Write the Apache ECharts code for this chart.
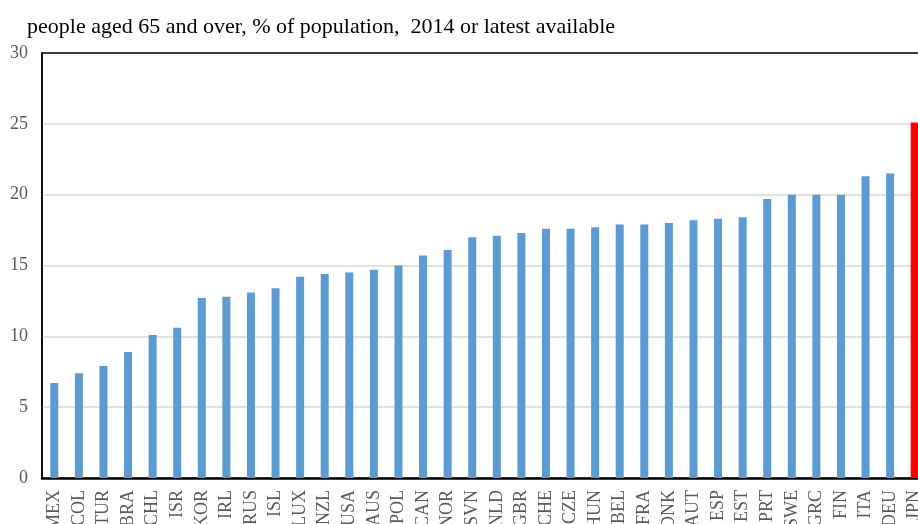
<!DOCTYPE html>
<html>
<head>
<meta charset="utf-8">
<script src="https://cdn.jsdelivr.net/npm/echarts@6/dist/echarts.min.js"></script>
<style>
  html, body { margin: 0; padding: 0; background: #fff; }
  #main { width: 918px; height: 524px; }
</style>
</head>
<body>
<div id="main"></div>
<script>
const countries = ['MEX', 'COL', 'TUR', 'BRA', 'CHL', 'ISR', 'KOR', 'IRL', 'RUS', 'ISL', 'LUX', 'NZL',
  'USA', 'AUS', 'POL', 'CAN', 'NOR', 'SVN', 'NLD', 'GBR', 'CHE', 'CZE', 'HUN', 'BEL', 'FRA', 'DNK',
  'AUT', 'ESP', 'EST', 'PRT', 'SWE', 'GRC', 'FIN', 'ITA', 'DEU', 'JPN'];
const elderlyShare = [6.7, 7.4, 7.9, 8.9, 10.1, 10.6, 12.7, 12.8, 13.1, 13.4, 14.2, 14.4,
  14.5, 14.7, 15.0, 15.7, 16.1, 17.0, 17.1, 17.3, 17.6, 17.6, 17.7, 17.9, 17.9, 18.0,
  18.2, 18.3, 18.4, 19.7, 20.0, 20.0, 20.0, 21.3, 21.5, 25.1];
const highlight = 'JPN';
const yTicks = [0, 5, 10, 15, 20, 25, 30];

const chart = echarts.init(document.getElementById('main'));
const serif = '"Liberation Serif", "DejaVu Serif", serif';

const option = {
  animation: false,
  title: {
    text: 'people aged 65 and over, % of population,  2014 or latest available',
    left: 22,
    top: 11,
    textStyle: {
      fontFamily: serif,
      fontSize: 22,
      fontWeight: 'normal',
      color: '#000'
    }
  },
  grid: {
    left: 42,
    top: 53,
    bottom: 46,
    right: -9,
    outerBoundsMode: 'none',
    containLabel: false,
    show: true,
    borderColor: '#000',
    borderWidth: 1.5
  },
  xAxis: {
    type: 'category',
    data: countries,
    axisLine: {
      lineStyle: { color: '#000', width: 2.5 }
    },
    axisTick: { show: false },
    axisLabel: {
      rotate: 90,
      interval: 0,
      margin: 12,
      fontFamily: serif,
      fontSize: 18,
      color: '#595959'
    }
  },
  yAxis: {
    type: 'value',
    min: yTicks[0],
    max: yTicks[yTicks.length - 1],
    interval: 5,
    axisLine: {
      show: true,
      lineStyle: { color: '#000', width: 1.5 }
    },
    axisTick: { show: false },
    axisLabel: {
      margin: 14,
      fontFamily: serif,
      fontSize: 18,
      color: '#595959'
    },
    splitLine: {
      showMaxLine: false,
      lineStyle: { color: '#D9D9D9', width: 1.5 }
    }
  },
  series: [
    {
      type: 'bar',
      barWidth: 8,
      data: elderlyShare.map((v, i) => ({
        value: v,
        itemStyle: { color: countries[i] === highlight ? '#FF0000' : '#5B9BD5' }
      }))
    }
  ]
};
chart.setOption(option);
</script>
</body>
</html>
